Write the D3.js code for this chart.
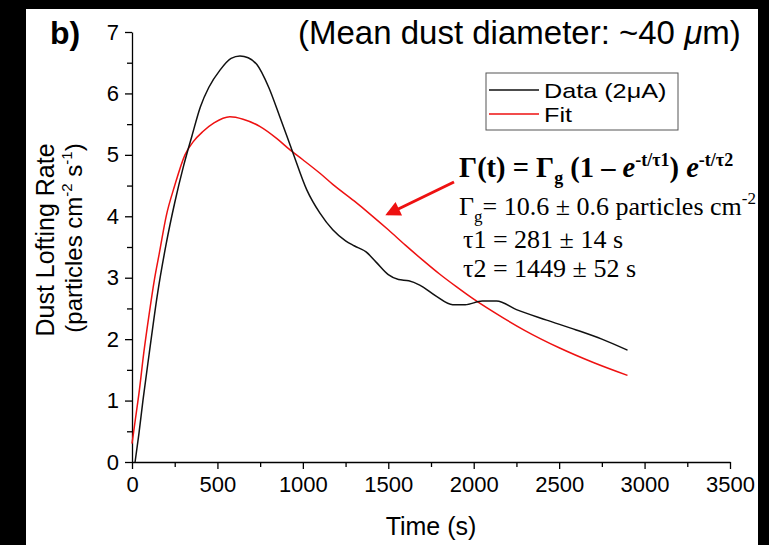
<!DOCTYPE html>
<html>
<head>
<meta charset="utf-8">
<script src="https://cdn.jsdelivr.net/npm/d3@7"></script>
<style>
  body { margin: 0; background: #fff; }
  text { font-family: "Liberation Sans", Arial, sans-serif; }
  .serif { font-family: "Liberation Serif", "Times New Roman", serif; }
</style>
</head>
<body>
<div id="chart"></div>
<script>
// data
const dataTime = [18, 40, 64, 100, 150, 200, 250, 300, 350, 400, 450, 515, 580, 632, 680, 731, 800, 865, 936, 1023, 1100, 1175, 1250, 1300, 1370, 1430, 1500, 1560, 1620, 1684, 1780, 1877, 1950, 2050, 2134, 2250, 2427, 2600, 2750, 2900];
const dataRate = [0, 0.45, 1.0, 1.75, 2.75, 3.55, 4.22, 4.8, 5.3, 5.78, 6.1, 6.38, 6.57, 6.61, 6.58, 6.47, 6.1, 5.62, 5.08, 4.43, 4.05, 3.78, 3.6, 3.52, 3.42, 3.25, 3.05, 2.97, 2.95, 2.88, 2.7, 2.56, 2.56, 2.62, 2.62, 2.48, 2.31, 2.15, 2.0, 1.82];

const fitTime = [0, 20, 40, 70, 100, 130, 160, 200, 250, 310, 360, 415, 480, 573, 650, 750, 850, 925, 1000, 1100, 1175, 1300, 1400, 1500, 1600, 1700, 1800, 1900, 2000, 2170, 2300, 2500, 2700, 2900];
const fitRate = [0.3, 0.7, 1.1, 1.8, 2.4, 2.95, 3.4, 4.0, 4.5, 5.0, 5.22, 5.38, 5.52, 5.62, 5.58, 5.46, 5.26, 5.08, 4.92, 4.7, 4.52, 4.25, 4.02, 3.78, 3.53, 3.29, 3.06, 2.85, 2.65, 2.35, 2.14, 1.86, 1.62, 1.41];

const xTicks = [0, 500, 1000, 1500, 2000, 2500, 3000, 3500];
const yTicks = [0, 1, 2, 3, 4, 5, 6, 7];

const width = 769, height = 545;
const margin = { top: 32, right: 39, bottom: 83, left: 132 };

const svg = d3.select("#chart")
    .append("svg")
    .attr("width", width)
    .attr("height", height);

const x = d3.scaleLinear().domain([0, 3500]).range([margin.left, width - margin.right]);
const y = d3.scaleLinear().domain([0, 7]).range([height - margin.bottom, margin.top]);

// axes
svg.append("g")
    .attr("transform", `translate(0, ${y(0)})`)
    .call(d3.axisBottom(x).tickValues(xTicks).tickFormat(d3.format("d"))
        .tickSize(7).tickPadding(7).tickSizeOuter(0));
svg.append("g")
    .attr("transform", `translate(0, ${y(0)})`)
    .call(d3.axisBottom(x).tickValues(d3.range(250, 3500, 500)).tickSize(5).tickFormat("").tickSizeOuter(0))
    .select(".domain").remove();

svg.append("g")
    .attr("transform", `translate(${x(0)}, 0)`)
    .call(d3.axisLeft(y).tickValues(yTicks).tickFormat(d3.format("d"))
        .tickSize(7).tickPadding(6).tickSizeOuter(0));
svg.append("g")
    .attr("transform", `translate(${x(0)}, 0)`)
    .call(d3.axisLeft(y).tickValues(d3.range(0.5, 7, 1)).tickSize(5).tickFormat("").tickSizeOuter(0))
    .select(".domain").remove();

svg.selectAll(".tick text")
    .attr("font-size", "22px")
    .attr("font-family", "Liberation Sans, Arial, sans-serif")
    .attr("fill", "#000");
svg.selectAll(".domain, .tick line").attr("stroke", "#000").attr("stroke-width", 1.3);

// curves
const line = d3.line()
    .x(d => x(d[0]))
    .y(d => y(d[1]))
    .curve(d3.curveMonotoneX);

svg.append("path")
    .datum(fitTime.map((t, i) => [t, fitRate[i]]))
    .attr("d", line)
    .attr("fill", "none")
    .attr("stroke", "#ee1111")
    .attr("stroke-width", 1.5);

svg.append("path")
    .datum(dataTime.map((t, i) => [t, dataRate[i]]))
    .attr("d", line)
    .attr("fill", "none")
    .attr("stroke", "#111")
    .attr("stroke-width", 1.5);

// axis titles
svg.append("text")
    .attr("x", x(1750)).attr("y", 535)
    .attr("text-anchor", "middle")
    .attr("font-size", "25px")
    .text("Time (s)");

svg.append("text")
    .attr("transform", "translate(54, 240) rotate(-90)")
    .attr("text-anchor", "middle")
    .attr("font-size", "25px")
    .text("Dust Lofting Rate");
const yt2 = svg.append("text")
    .attr("transform", "translate(82, 238) rotate(-90)")
    .attr("text-anchor", "middle")
    .attr("font-size", "24px");
yt2.append("tspan").text("(particles cm");
yt2.append("tspan").attr("font-size", "15px").attr("dy", -10).text("-2");
yt2.append("tspan").attr("dy", 10).text(" s");
yt2.append("tspan").attr("font-size", "15px").attr("dy", -10).text("-1");
yt2.append("tspan").attr("dy", 10).text(")");

// panel label and title
svg.append("text")
    .attr("x", 50).attr("y", 44)
    .attr("font-size", "32px").attr("font-weight", "bold")
    .text("b)");

const title = svg.append("text")
    .attr("x", 298).attr("y", 44)
    .attr("font-size", "33px");
title.append("tspan").text("(Mean dust diameter: ~40 ");
title.append("tspan").attr("font-style", "italic").text("μ");
title.append("tspan").text("m)");

// legend
const lg = svg.append("g");
lg.append("rect")
    .attr("x", 486).attr("y", 73).attr("width", 192).attr("height", 57)
    .attr("fill", "#fff").attr("stroke", "#555").attr("stroke-width", 1);
const legendItems = [["Data (2μA)", "#111"], ["Fit", "#ee1111"]];
legendItems.forEach((d, i) => {
    const yy = 90 + i * 24;
    lg.append("line")
        .attr("x1", 489).attr("x2", 539).attr("y1", yy).attr("y2", yy)
        .attr("stroke", d[1]).attr("stroke-width", 1.5);
    const t = lg.append("text")
        .attr("x", 544).attr("y", yy + 8)
        .attr("font-size", "21px")
        .text(d[0]);
    // the reference glyphs are a little wider than Arial's
    t.attr("textLength", t.node().getComputedTextLength() * 1.2)
        .attr("lengthAdjust", "spacingAndGlyphs");
});

// equation
const eq = svg.append("g");
const l1 = eq.append("text").attr("class", "serif")
    .attr("x", 459).attr("y", 177)
    .attr("font-size", "28.5px").attr("font-weight", "bold");
l1.append("tspan").text("Γ(t) = Γ");
l1.append("tspan").attr("font-size", "18px").attr("dy", 7).text("g");
l1.append("tspan").attr("dy", -7).text(" (1 – ");
l1.append("tspan").attr("font-style", "italic").text("e");
l1.append("tspan").attr("font-size", "18px").attr("dy", -11).text("-t/τ1");
l1.append("tspan").attr("dy", 11).text(") ");
l1.append("tspan").attr("font-style", "italic").text("e");
l1.append("tspan").attr("font-size", "18px").attr("dy", -11).text("-t/τ2");

const l2 = eq.append("text").attr("class", "serif")
    .attr("x", 459).attr("y", 215)
    .attr("font-size", "26px");
l2.append("tspan").text("Γ");
l2.append("tspan").attr("font-size", "17px").attr("dy", 7).text("g");
l2.append("tspan").attr("dy", -7).text("= 10.6 ± 0.6 particles cm");
l2.append("tspan").attr("font-size", "17px").attr("dy", -11).text("-2");

eq.append("text").attr("class", "serif")
    .attr("x", 463).attr("y", 248)
    .attr("font-size", "26px")
    .text("τ1 = 281 ± 14 s");
eq.append("text").attr("class", "serif")
    .attr("x", 463).attr("y", 277)
    .attr("font-size", "26px")
    .text("τ2 = 1449 ± 52 s");

// arrow
svg.append("defs").append("marker")
    .attr("id", "head")
    .attr("viewBox", "0 0 10 10")
    .attr("refX", 8).attr("refY", 5)
    .attr("markerWidth", 6).attr("markerHeight", 5)
    .attr("orient", "auto")
    .append("path").attr("d", "M0,0 L10,5 L0,10 Z").attr("fill", "#ee1111");
svg.append("line")
    .attr("x1", 454).attr("y1", 182).attr("x2", 388).attr("y2", 214)
    .attr("stroke", "#ee1111").attr("stroke-width", 3)
    .attr("marker-end", "url(#head)");

// black frame around the cropped figure
svg.append("rect").attr("x", 0).attr("y", 0).attr("width", 26).attr("height", height).attr("fill", "#000");
svg.append("rect").attr("x", 0).attr("y", 0).attr("width", width).attr("height", 9).attr("fill", "#000");
svg.append("rect").attr("x", 758).attr("y", 0).attr("width", 11).attr("height", height).attr("fill", "#000");
</script>
</body>
</html>
